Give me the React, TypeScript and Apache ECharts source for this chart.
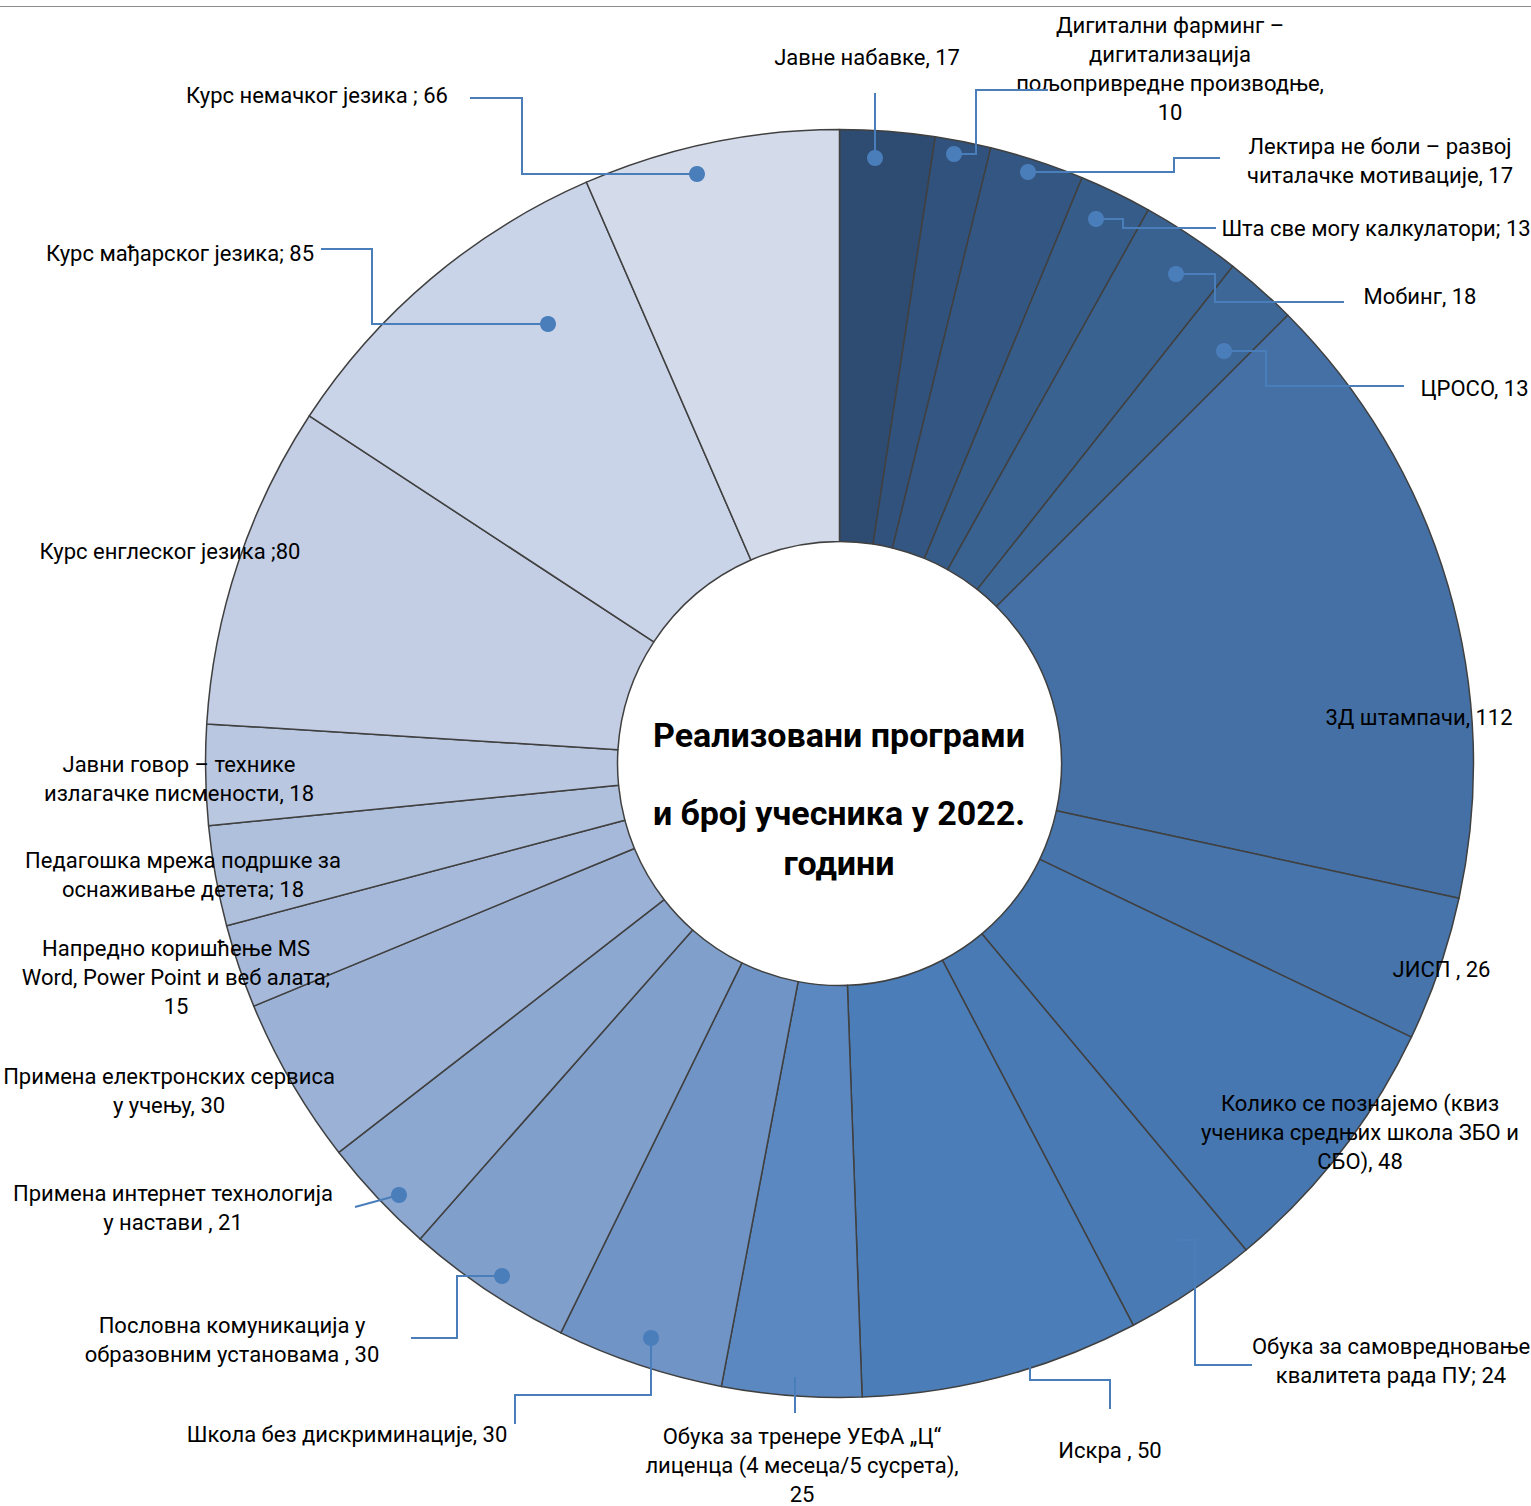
import React, { useEffect, useRef } from "react";
import * as echarts from "echarts";

// ---- data ----
const programs = [
  "Јавне набавке",
  "Дигитални фарминг –\nдигитализација\nпољопривредне производње",
  "Лектира не боли – развој\nчиталачке мотивације",
  "Шта све могу калкулатори",
  "Мобинг",
  "ЦРОСО",
  "3Д штампачи",
  "ЈИСП ",
  "Колико се познајемо (квиз\nученика средњих школа ЗБО и\nСБО)",
  "Обука за самовредновање\nквалитета рада ПУ",
  "Искра ",
  "Обука за тренере УЕФА „Ц“\nлиценца (4 месеца/5 сусрета)",
  "Школа без дискриминације",
  "Пословна комуникација у\nобразовним установама ",
  "Примена интернет технологија\nу настави ",
  "Примена електронских сервиса\nу учењу",
  "Напредно коришћење MS\nWord, Power Point и веб алата",
  "Педагошка мрежа подршке за\nоснаживање детета",
  "Јавни говор – технике\nизлагачке писмености",
  "Курс енглеског језика ",
  "Курс мађарског језика",
  "Курс немачког језика ",
];
const separators = [
  ", ", ",\n", ", ", "; ", ", ", ", ", ", ", ", ", ", ", "; ", ", ",
  ",\n", ", ", ", ", ", ", ", ", ";\n", "; ", ", ", ";", "; ", "; ",
];
// participant numbers printed in the labels
const participants = [17, 10, 17, 13, 18, 13, 112, 26, 48, 24, 50, 25, 30, 30, 21, 30, 15, 18, 18, 80, 85, 66];
// slice sizes as drawn in the picture (the three language courses are drawn smaller than printed)
const sliceValues = [17, 10, 17, 13, 18, 13, 112, 26, 48, 24, 50, 25, 30, 30, 21, 30, 15, 18, 18, 58, 65, 46];
const titleLines = ["Реализовани програми", "и број учесника у 2022.", "години"];

// ---- styles / layout ----
const palette = [
  "#2e4b72", "#30527c", "#335782", "#365c89", "#3a6290", "#3d6796",
  "#4470a5", "#4674ab", "#4777b0", "#4a7ab4", "#4b7eb9", "#5b88c0",
  "#7094c5", "#819fcb", "#8ca7d0", "#9bb1d5", "#a6b9da", "#afc0dd",
  "#b9c7e0", "#c3cee5", "#cad4e8", "#d3dbea",
];

type LL = { x: number; y: number; line?: number[][]; dot?: boolean };
const labelLayouts: LL[] = [
  { x: 867, y: 57, line: [[875, 158], [875, 93]], dot: true },
  { x: 1170, y: 69, line: [[954, 154], [976, 154], [976, 90], [1048, 90]], dot: true },
  { x: 1380, y: 160.5, line: [[1028, 172], [1174, 172], [1174, 158], [1220, 158]], dot: true },
  { x: 1376, y: 228, line: [[1096, 219], [1123, 219], [1123, 228], [1216, 228]], dot: true },
  { x: 1420, y: 296, line: [[1176, 274], [1215, 274], [1215, 302], [1344, 302]], dot: true },
  { x: 1474.5, y: 388, line: [[1224, 351], [1266, 351], [1266, 386], [1404, 386]], dot: true },
  { x: 1419, y: 717 },
  { x: 1441.5, y: 969 },
  { x: 1360, y: 1132 },
  { x: 1391, y: 1361, line: [[1178, 1240], [1195, 1240], [1195, 1365], [1252, 1365]] },
  { x: 1110, y: 1450, line: [[1030, 1352], [1030, 1380], [1110, 1380], [1110, 1409]] },
  { x: 802, y: 1465, line: [[795, 1377], [795, 1413]] },
  { x: 347, y: 1434, line: [[651, 1338], [651, 1395], [515, 1395], [515, 1424]], dot: true },
  { x: 232, y: 1340, line: [[502, 1276], [457, 1276], [457, 1338], [411, 1338]], dot: true },
  { x: 173, y: 1207.5, line: [[399, 1195], [355, 1207]], dot: true },
  { x: 169, y: 1091 },
  { x: 176, y: 977 },
  { x: 183, y: 875 },
  { x: 179, y: 778.5 },
  { x: 170, y: 551 },
  { x: 180, y: 253, line: [[548, 324], [372, 324], [372, 249], [321, 249]], dot: true },
  { x: 317, y: 95, line: [[697, 174], [522, 174], [522, 98], [470, 98]], dot: true },
];
const titleY = [735, 813, 863];
const FONT = "Roboto, 'Liberation Sans', sans-serif";
const LEADER = "#4a7ebb";

export default function App() {
  const ref = useRef<HTMLDivElement>(null);
  useEffect(() => {
    const chart = echarts.init(ref.current as HTMLDivElement, null, { renderer: "svg" });
    const data = programs.map((p, i) => ({
      name: p + separators[i] + participants[i],
      value: sliceValues[i],
      itemStyle: { color: palette[i] },
    }));
    const leaders = labelLayouts
      .filter((l) => l.line)
      .map((l) => ({
        type: "polyline",
        z: 90,
        silent: true,
        shape: { points: (l.line as number[][]).map((p) => [p[0], p[1]]) },
        style: { stroke: LEADER, lineWidth: 2, fill: "none" },
      }));
    const dots = labelLayouts
      .filter((l) => l.dot && l.line)
      .map((l) => ({
        type: "circle",
        z: 100,
        silent: true,
        shape: { cx: (l.line as number[][])[0][0], cy: (l.line as number[][])[0][1], r: 8 },
        style: { fill: LEADER },
      }));
    const titles = titleLines.map((t, i) => ({
      type: "text",
      z: 100,
      silent: true,
      x: 839,
      y: titleY[i],
      style: {
        text: t,
        fill: "#000",
        font: `bold 34px ${FONT}`,
        textAlign: "center",
        textVerticalAlign: "middle",
      },
    }));
    chart.setOption({
      animation: false,
      backgroundColor: "#ffffff",
      graphic: [
        {
          type: "line",
          z: 100,
          silent: true,
          shape: { x1: 0, y1: 6.5, x2: 1531, y2: 6.5 },
          style: { stroke: "#8c8c8c", lineWidth: 1 },
        },
        ...titles,
        ...leaders,
        ...dots,
      ],
      series: [
        {
          type: "pie",
          center: [839.5, 763.5],
          radius: [222, 634],
          startAngle: 90,
          clockwise: true,
          avoidLabelOverlap: false,
          silent: true,
          z: 2,
          data,
          itemStyle: { borderColor: "#404040", borderWidth: 1.5 },
          label: {
            show: true,
            position: "outside",
            formatter: "{b}",
            color: "#000",
            fontFamily: FONT,
            fontSize: 22,
            lineHeight: 29,
          },
          labelLine: { show: false },
          labelLayout: (params: any) => {
            const l = labelLayouts[params.dataIndex];
            return { x: l.x, y: l.y, align: "center", verticalAlign: "middle" };
          },
          emphasis: { disabled: true },
        },
      ],
    });
    return () => chart.dispose();
  }, []);
  return (
    <div
      ref={ref}
      style={{ position: "absolute", left: 0, top: 0, width: 1531, height: 1506 }}
    />
  );
}
